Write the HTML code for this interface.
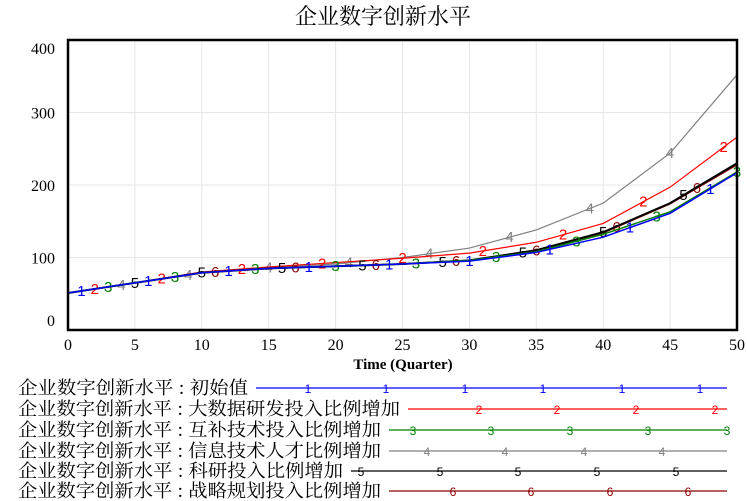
<!DOCTYPE html>
<html><head><meta charset="utf-8"><style>
body{margin:0;background:#fff;}
svg{display:block;font-family:"Liberation Serif","Noto Serif CJK SC",serif;}
</style></head><body>
<svg id="chart" width="747" height="501" viewBox="0 0 747 501">
<text x="383" y="24" text-anchor="middle" font-size="22">企业数字创新水平</text>
<g id="grid"></g>
<g id="series"></g>
<rect x="68" y="40" width="669" height="290" fill="none" stroke="#000" stroke-width="2.5"/>
<g id="axes"></g>
<text x="403" y="369" text-anchor="middle" font-size="15" font-weight="bold">Time (Quarter)</text>
<g id="legend"></g>
</svg>
<script>
const times=[0,5,10,15,20,25,30,35,40,45,50];
const s1=[51,65,79,85,88,91,95,107,128,161,217];
const s2=[51,65,80,87,93,99,106,121,147,197,266];
const s3=[51,65,79,85,88,91,96,108,132,163,218];
const s4=[51,65,79,86,91,100,113,138,175,244,352];
const s5=[51,65,79,85,88,91,96,110,135,175,230];
const s6=[51,65,79,85,88,91,96,110,134,174,228];
const xTicks=[0,5,10,15,20,25,30,35,40,45,50];
const yTicks=[0,100,200,300,400];
const seriesNames=["企业数字创新水平 : 初始值","企业数字创新水平 : 大数据研发投入比例增加","企业数字创新水平 : 互补技术投入比例增加","企业数字创新水平 : 信息技术人才比例增加","企业数字创新水平 : 科研投入比例增加","企业数字创新水平 : 战略规划投入比例增加"];
const colors=["#0000ff","#ff0000","#008000","#808080","#000000","#8b0000"];
const widths=[1.5,1.2,1.5,1.2,2,1.5];
const markers=[[1,6,12,18,24,30,36,42,48],[2,7,13,19,25,31,37,43,49],[3,8,14,20,26,32,38,44,50],[4,9,15,21,27,33,39,45],[5,10,16,22,28,34,40,46],[11,17,23,29,35,41,47]];
const X=t=>68+t*(669/50), Y=v=>330-v*(290/400);
const NS="http://www.w3.org/2000/svg";
function mk(tag,at,parent){const e=document.createElementNS(NS,tag);for(const k in at)e.setAttribute(k,at[k]);parent.appendChild(e);return e;}
const grid=document.getElementById('grid'),axes=document.getElementById('axes'),ser=document.getElementById('series'),leg=document.getElementById('legend');
xTicks.forEach(t=>{const l=mk('line',{x1:X(t),x2:X(t),y1:40,y2:330,stroke:'#e6e6e6'},grid);
const tx=mk('text',{x:X(t),y:350,'text-anchor':'middle','font-size':16},axes);tx.textContent=t;});
yTicks.forEach(v=>{const l=mk('line',{x1:68,x2:737,y1:Y(v),y2:Y(v),stroke:'#e6e6e6'},grid);
const tx=mk('text',{x:55,y:Y(v)+(v==0?-4:v==400?14:6),'text-anchor':'end','font-size':16},axes);tx.textContent=v;});
const data=[s1,s2,s3,s4,s5,s6];
function valAt(arr,t){for(let i=0;i<times.length-1;i++){if(t<=times[i+1]){const f=(t-times[i])/(times[i+1]-times[i]);return arr[i]+f*(arr[i+1]-arr[i]);}}return arr[arr.length-1];}
const order=[3,1,5,4,2,0];
order.forEach(k=>{const arr=data[k];
const p=mk('polyline',{points:times.map((t,i)=>X(t)+','+Y(arr[i])).join(' '),fill:'none',stroke:colors[k],'stroke-width':widths[k]},ser);

markers[k].forEach(t=>{const m=mk('text',{x:X(t),y:Y(valAt(arr,t))+5,'text-anchor':'middle','font-size':15,fill:colors[k],'font-family':'Liberation Sans, sans-serif'},ser);m.textContent=k+1;});});
const rowY=[388,409,430,451,471,491],lineStart=[256,408,389,389,351,389];
const legMarks=[[308,386,465,543,622,700],[479,557,636,715],[413,491,570,648,727],[427,505,584,662],[361,440,518,597,676],[453,531,610,688]];
seriesNames.forEach((n,k)=>{const g=mk('g',{},leg);
const tx=mk('text',{x:18,y:rowY[k]+6,'font-size':18,textLength:lineStart[k]-26,lengthAdjust:'spacingAndGlyphs','font-family':'Noto Serif CJK SC, serif'},g);tx.textContent=n;
const l=mk('line',{x1:lineStart[k],x2:727,y1:rowY[k],y2:rowY[k],stroke:colors[k],'stroke-width':1.3},g);
legMarks[k].forEach(x=>{const m=mk('text',{x:x,y:rowY[k]+5,'text-anchor':'middle','font-size':12,fill:colors[k],'font-family':'Liberation Sans, sans-serif'},g);m.textContent=k+1;});});
</script>
</body></html>
